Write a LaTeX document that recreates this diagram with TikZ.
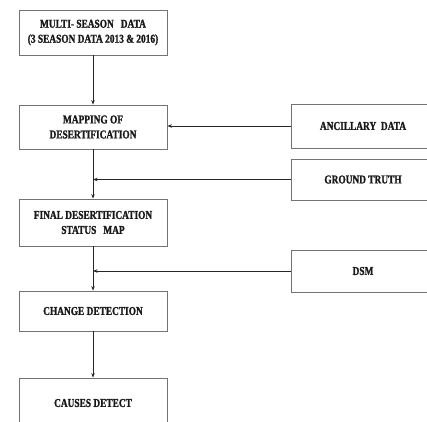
\documentclass[tikz,border=0pt]{standalone}
\usepackage{fontspec}
\setmainfont{Liberation Serif}
\newfontfamily\boxfont[FakeStretch=0.78,FakeBold=1.2]{Liberation Serif Bold}
\newcommand{\boxsize}{\fontsize{12}{15}\selectfont}
\usetikzlibrary{arrows.meta}
\tikzset{
  box/.style={draw=black!55, line width=0.8pt, fill=white, inner sep=0pt, align=center,
    font=\boxsize\boxfont, text=black!90},
  conn/.style={draw=black!85, line width=0.9pt, -{Stealth[length=4.5pt,width=3.5pt]}},
}
\begin{document}
\begin{tikzpicture}[x=1pt,y=-1pt]
\useasboundingbox (0,0) rectangle (427,421);
\clip (0,0) rectangle (427,421);
\fill[white] (0,0) rectangle (427,421);
\node[box, minimum width=148pt, minimum height=45pt] (b1) at (93,32.5) {MULTI- SEASON\ \ \ DATA\\(3 SEASON DATA 2013 \& 2016)};
\node[box, minimum width=148pt, minimum height=44pt] (b2) at (93,127) {MAPPING OF\\DESERTIFICATION};
\node[box, minimum width=148pt, minimum height=47pt] (b3) at (93,222.5) {FINAL DESERTIFICATION\\STATUS\ \ \ MAP};
\node[box, minimum width=148pt, minimum height=40pt] (b4) at (93,311) {CHANGE DETECTION};
\node[box, minimum width=148pt, minimum height=50pt] (b5) at (93,403) {CAUSES DETECT};
\node[box, minimum width=144pt, minimum height=44pt] (anc) at (363,126) {ANCILLARY\ \ DATA};
\node[box, minimum width=144pt, minimum height=41pt] (gt) at (363,179.5) {GROUND TRUTH};
\node[box, minimum width=144pt, minimum height=42pt] (dsm) at (363,271) {DSM};
\coordinate (j1) at (b2.south |- gt.west);
\coordinate (j2) at (b3.south |- dsm.west);
\draw[conn] (b1.south) -- (b2.north);
\draw[conn] (b2.south) -- (b3.north);
\draw[conn] (b3.south) -- (b4.north);
\draw[conn] (b4.south) -- (b5.north);
\draw[conn] (anc.west) -- (b2.east |- anc.west);
\draw[conn] (gt.west) -- (j1);
\draw[conn] (dsm.west) -- (j2);
\end{tikzpicture}
\end{document}
